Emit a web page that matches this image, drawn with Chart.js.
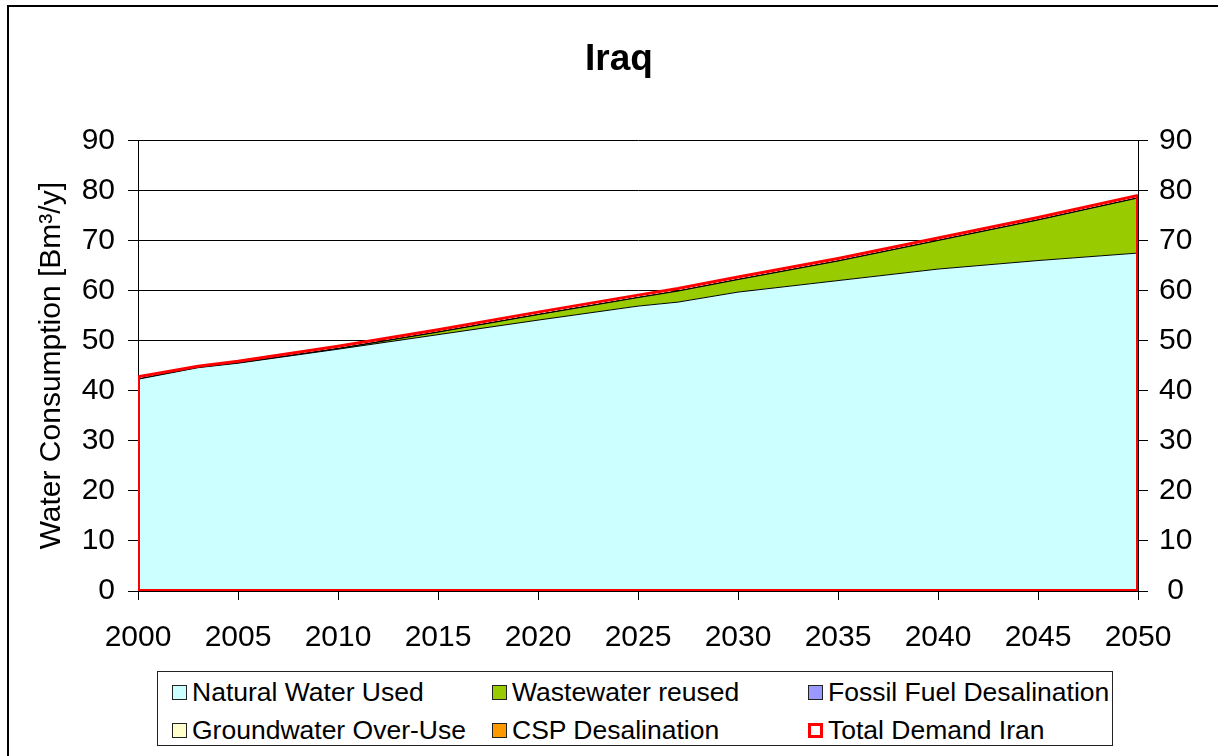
<!DOCTYPE html>
<html>
<head>
<meta charset="utf-8">
<script src="https://cdn.jsdelivr.net/npm/chart.js@4/dist/chart.umd.min.js"></script>
<style>
  html, body { margin: 0; padding: 0; background: #fff; overflow: hidden; }
  #wrap { position: relative; width: 1218px; height: 756px; }
  #frame { position: absolute; left: 7px; top: 5px; width: 1300px; height: 900px; border: 2px solid #000; }
  #myChart { position: absolute; left: 0; top: 0; }
  #legend {
    position: absolute; left: 157px; top: 671px; width: 954px; height: 73px;
    border: 1px solid #222; background: #fff;
    font-family: "Liberation Sans", Arial, sans-serif; font-size: 26.5px; color: #000;
  }
  .item { position: absolute; display: flex; align-items: center; white-space: nowrap; height: 30px; }
  .box { width: 13px; height: 13px; border: 1px solid #222; margin-right: 5px; box-sizing: content-box; }
</style>
</head>
<body>
<div id="wrap">
  <div id="frame"></div>
  <canvas id="myChart" width="1218" height="756"></canvas>
  <div id="legend"></div>
</div>
<script>
/* eslint-disable require-jsdoc */
const years = [2000, 2003, 2005, 2010, 2015, 2020, 2025, 2027, 2030, 2035, 2040, 2045, 2050];
const naturalWater = [42.3, 44.6, 45.5, 48.3, 51.2, 54.1, 56.9, 57.7, 59.7, 62.0, 64.3, 66.0, 67.5];
const wastewater = [0, 0, 0, 0.1, 0.5, 1.1, 1.7, 2.2, 2.5, 3.9, 5.7, 8.1, 11.0];
const fossilDesal = [0, 0, 0, 0, 0, 0, 0, 0, 0, 0, 0, 0, 0];
const groundwaterOveruse = [0, 0, 0, 0, 0, 0, 0, 0, 0, 0, 0, 0, 0];
const cspDesal = [0, 0, 0, 0, 0, 0, 0, 0, 0, 0, 0, 0, 0];
const totalDemand = [42.8, 44.9, 45.9, 48.9, 52.2, 55.7, 59.1, 60.4, 62.7, 66.4, 70.5, 74.6, 79.0];

const FONT = '"Liberation Sans", Arial, sans-serif';

function pts(values) {
  return values.map((v, i) => ({x: years[i], y: v}));
}

function area(label, values, color, fill) {
  return {
    label: label,
    data: pts(values),
    backgroundColor: color,
    borderColor: '#000',
    borderWidth: 1,
    pointRadius: 0,
    tension: 0,
    fill: fill,
    stack: 'supply',
  };
}

const data = {
  datasets: [
    area('Natural Water Used', naturalWater, '#CCFFFF', 'origin'),
    area('Wastewater reused', wastewater, '#99CC00', '-1'),
    area('Fossil Fuel Desalination', fossilDesal, '#9999FF', '-1'),
    area('Groundwater Over-Use', groundwaterOveruse, '#FFFFCC', '-1'),
    area('CSP Desalination', cspDesal, '#FF9900', '-1'),
    {
      label: 'Total Demand Iran',
      data: pts(totalDemand),
      backgroundColor: '#fff',
      borderColor: '#FF0000',
      borderWidth: 3,
      pointRadius: 0,
      fill: false,
      stack: 'total',
      order: -1,
    },
  ],
};

// red outline closing the total demand series down to zero
const totalOutline = {
  id: 'totalOutline',
  afterDatasetsDraw(chart) {
    const {ctx, scales: {x, y}} = chart;
    const x0 = x.getPixelForValue(years[0]) + 1;
    const x1 = x.getPixelForValue(years[years.length - 1]) - 1;
    const yb = y.getPixelForValue(0) - 1;
    ctx.save();
    ctx.strokeStyle = '#FF0000';
    ctx.lineWidth = 2;
    ctx.beginPath();
    ctx.moveTo(x0, y.getPixelForValue(totalDemand[0]));
    ctx.lineTo(x0, yb);
    ctx.lineTo(x1, yb);
    ctx.lineTo(x1, y.getPixelForValue(totalDemand[totalDemand.length - 1]));
    ctx.stroke();
    ctx.restore();
  },
};

const config = {
  type: 'line',
  data: data,
  plugins: [totalOutline],
  options: {
    responsive: false,
    animation: false,
    layout: {padding: {left: 20, right: 0, top: 0, bottom: 105}},
    scales: {
      x: {
        type: 'linear',
        min: 2000,
        max: 2050,
        afterFit: (s) => { s.height = 60; },
        ticks: {
          stepSize: 5,
          color: '#000',
          font: {family: FONT, size: 30},
          padding: 20,
          maxRotation: 0,
          callback: (v) => String(v),
        },
        grid: {drawOnChartArea: false, color: '#000', tickLength: 9},
        border: {color: '#000', width: 1},
      },
      y: {
        stacked: true,
        min: 0,
        max: 90,
        afterFit: (s) => { s.width = 118; },
        ticks: {stepSize: 10, color: '#000', font: {family: FONT, size: 30}, padding: 13},
        grid: {color: '#000', lineWidth: 1, tickLength: 10},
        border: {color: '#000', width: 1},
        title: {
          display: true,
          text: 'Water Consumption [Bm³/y]',
          color: '#000',
          font: {family: FONT, size: 30},
          padding: {top: 14, bottom: 0},
        },
      },
      y2: {
        position: 'right',
        min: 0,
        max: 90,
        afterFit: (s) => { s.width = 80; },
        ticks: {stepSize: 10, color: '#000', font: {family: FONT, size: 30}, padding: 11, crossAlign: 'center'},
        grid: {drawOnChartArea: false, color: '#000', tickLength: 10},
        border: {color: '#000', width: 1},
      },
    },
    plugins: {
      legend: {display: false},
      tooltip: {enabled: false},
      title: {
        display: true,
        text: 'Iraq',
        color: '#000',
        font: {family: FONT, size: 37, weight: 'bold'},
        padding: {top: 38, bottom: 58},
      },
    },
  },
};

const myChart = new Chart(document.getElementById('myChart'), config);

// legend laid out in three columns like the original
const legendEl = document.getElementById('legend');
const colX = [14, 334, 650];
const rowY = [5, 43];
data.datasets.forEach((ds, i) => {
  const item = document.createElement('div');
  item.className = 'item';
  item.style.left = colX[i % 3] + 'px';
  item.style.top = rowY[Math.floor(i / 3)] + 'px';
  const box = document.createElement('span');
  box.className = 'box';
  if (ds.stack === 'total') {
    box.style.background = '#fff';
    box.style.border = '3px solid #FF0000';
    box.style.width = '9px';
    box.style.height = '9px';
  } else {
    box.style.background = ds.backgroundColor;
  }
  const text = document.createElement('span');
  text.textContent = ds.label;
  item.appendChild(box);
  item.appendChild(text);
  legendEl.appendChild(item);
});
</script>
</body>
</html>
